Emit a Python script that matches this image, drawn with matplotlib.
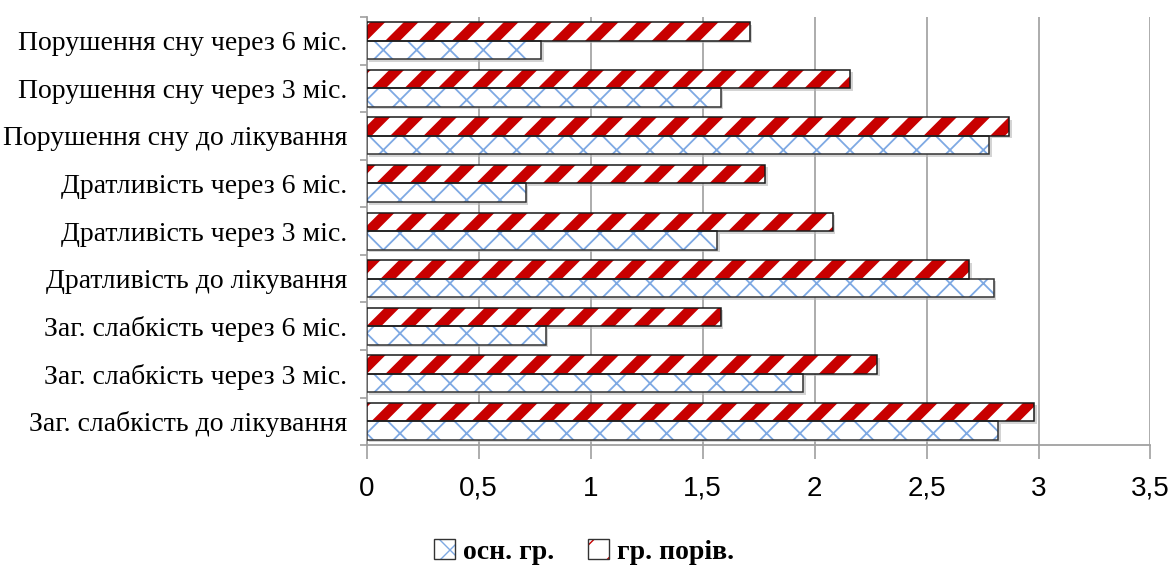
import numpy as np
import matplotlib
matplotlib.use('Agg')
import matplotlib.pyplot as plt
import matplotlib.transforms as mtransforms
from matplotlib.patches import Patch
from matplotlib.legend_handler import HandlerTuple

# categories, bottom to top as drawn
categories = ['Заг. слабкість до лікування', 'Заг. слабкість через 3 міс.',
              'Заг. слабкість через 6 міс.', 'Дратливість до лікування',
              'Дратливість через 3 міс.', 'Дратливість через 6 міс.',
              'Порушення сну до лікування', 'Порушення сну через 3 міс.',
              'Порушення сну через 6 міс.']
osn_gr = [2.82, 1.95, 0.80, 2.80, 1.565, 0.71, 2.78, 1.58, 0.78]
gr_poriv = [2.98, 2.28, 1.58, 2.69, 2.08, 1.78, 2.87, 2.16, 1.71]
series_names = ['осн. гр.', 'гр. порів.']
xticks = [0, 0.5, 1, 1.5, 2, 2.5, 3, 3.5]
xtick_labels = ['0', '0,5', '1', '1,5', '2', '2,5', '3', '3,5']

serif = ['Liberation Serif', 'DejaVu Serif']
narrow = ['Liberation Sans Narrow', 'DejaVu Sans Condensed', 'Liberation Sans', 'DejaVu Sans']

blue_c = '#7ea9e3'
red_c = '#c80000'
blue_lw = 1.3
red_lw = 7.5


def set_hlw(patches, lw):
    # per-patch hatch width where the version allows it
    for p in patches:
        if hasattr(p, 'set_hatch_linewidth'):
            p.set_hatch_linewidth(lw)


fig = plt.figure(figsize=(11.68, 5.67), dpi=100)
ax = fig.add_axes([0.314, 0.215, 0.671, 0.755])

y = np.arange(len(categories))
h = 0.39

# soft drop shadow, shifted a couple of pixels right/down
shift = ax.transData + mtransforms.ScaledTranslation(2.5 / 100, -2.5 / 100, fig.dpi_scale_trans)
ax.barh(y - h / 2, osn_gr, height=h, color='#b8b8b8', alpha=0.6, linewidth=0,
        transform=shift, zorder=2)
ax.barh(y + h / 2, gr_poriv, height=h, color='#b8b8b8', alpha=0.6, linewidth=0,
        transform=shift, zorder=2)

# hatch fill (hatch takes the edge colour), then a dark outline on top
with plt.rc_context({'hatch.linewidth': blue_lw}):
    blue = ax.barh(y - h / 2, osn_gr, height=h, color='white', edgecolor=blue_c,
                   linewidth=0, hatch='x', zorder=3)
set_hlw(blue, blue_lw)
with plt.rc_context({'hatch.linewidth': red_lw}):
    red = ax.barh(y + h / 2, gr_poriv, height=h, color='white', edgecolor=red_c,
                  linewidth=0, hatch='/', zorder=3)
set_hlw(red, red_lw)
ax.barh(y - h / 2, osn_gr, height=h, fill=False, edgecolor='#333333', linewidth=1.1, zorder=4)
ax.barh(y + h / 2, gr_poriv, height=h, fill=False, edgecolor='#1a1a1a', linewidth=1.1, zorder=4)

ax.set_xlim(0, 3.5)
ax.set_ylim(-0.5, len(categories) - 0.5)
ax.set_xticks(xticks)
ax.set_xticklabels(xtick_labels, family=narrow, fontsize=20)
ax.set_yticks(y)
ax.set_yticklabels(categories, family=serif, fontsize=20)
ax.set_yticks(np.arange(len(categories) + 1) - 0.5, minor=True)

ax.tick_params(axis='y', which='major', length=0, pad=14)
ax.tick_params(axis='y', which='minor', length=5, color='#a0a0a0', width=1.2)
ax.tick_params(axis='x', length=10, color='#a0a0a0', width=1.2, pad=12)

ax.grid(axis='x', color='#a6a6a6', linewidth=1.3, zorder=0)
ax.set_axisbelow(True)
for s in ['top', 'right']:
    ax.spines[s].set_visible(False)
for s in ['left', 'bottom']:
    ax.spines[s].set_color('#a0a0a0')
    ax.spines[s].set_linewidth(1.3)

with plt.rc_context({'hatch.linewidth': blue_lw}):
    h1 = Patch(facecolor='white', edgecolor=blue_c, hatch='x', linewidth=0)
set_hlw([h1], blue_lw)
with plt.rc_context({'hatch.linewidth': red_lw}):
    h2 = Patch(facecolor='white', edgecolor=red_c, hatch='/', linewidth=0)
set_hlw([h2], red_lw)
o1 = Patch(fill=False, edgecolor='#333333', linewidth=1)
o2 = Patch(fill=False, edgecolor='#333333', linewidth=1)

fig.legend([(h1, o1), (h2, o2)], series_names, loc='center', bbox_to_anchor=(0.5, 0.027),
           ncol=2, frameon=False, prop={'family': serif, 'weight': 'bold', 'size': 20},
           handler_map={tuple: HandlerTuple(ndivide=1)},
           handlelength=0.75, handleheight=0.75, handletextpad=0.3, columnspacing=1.2)

fig.savefig('out.png', dpi=100)
